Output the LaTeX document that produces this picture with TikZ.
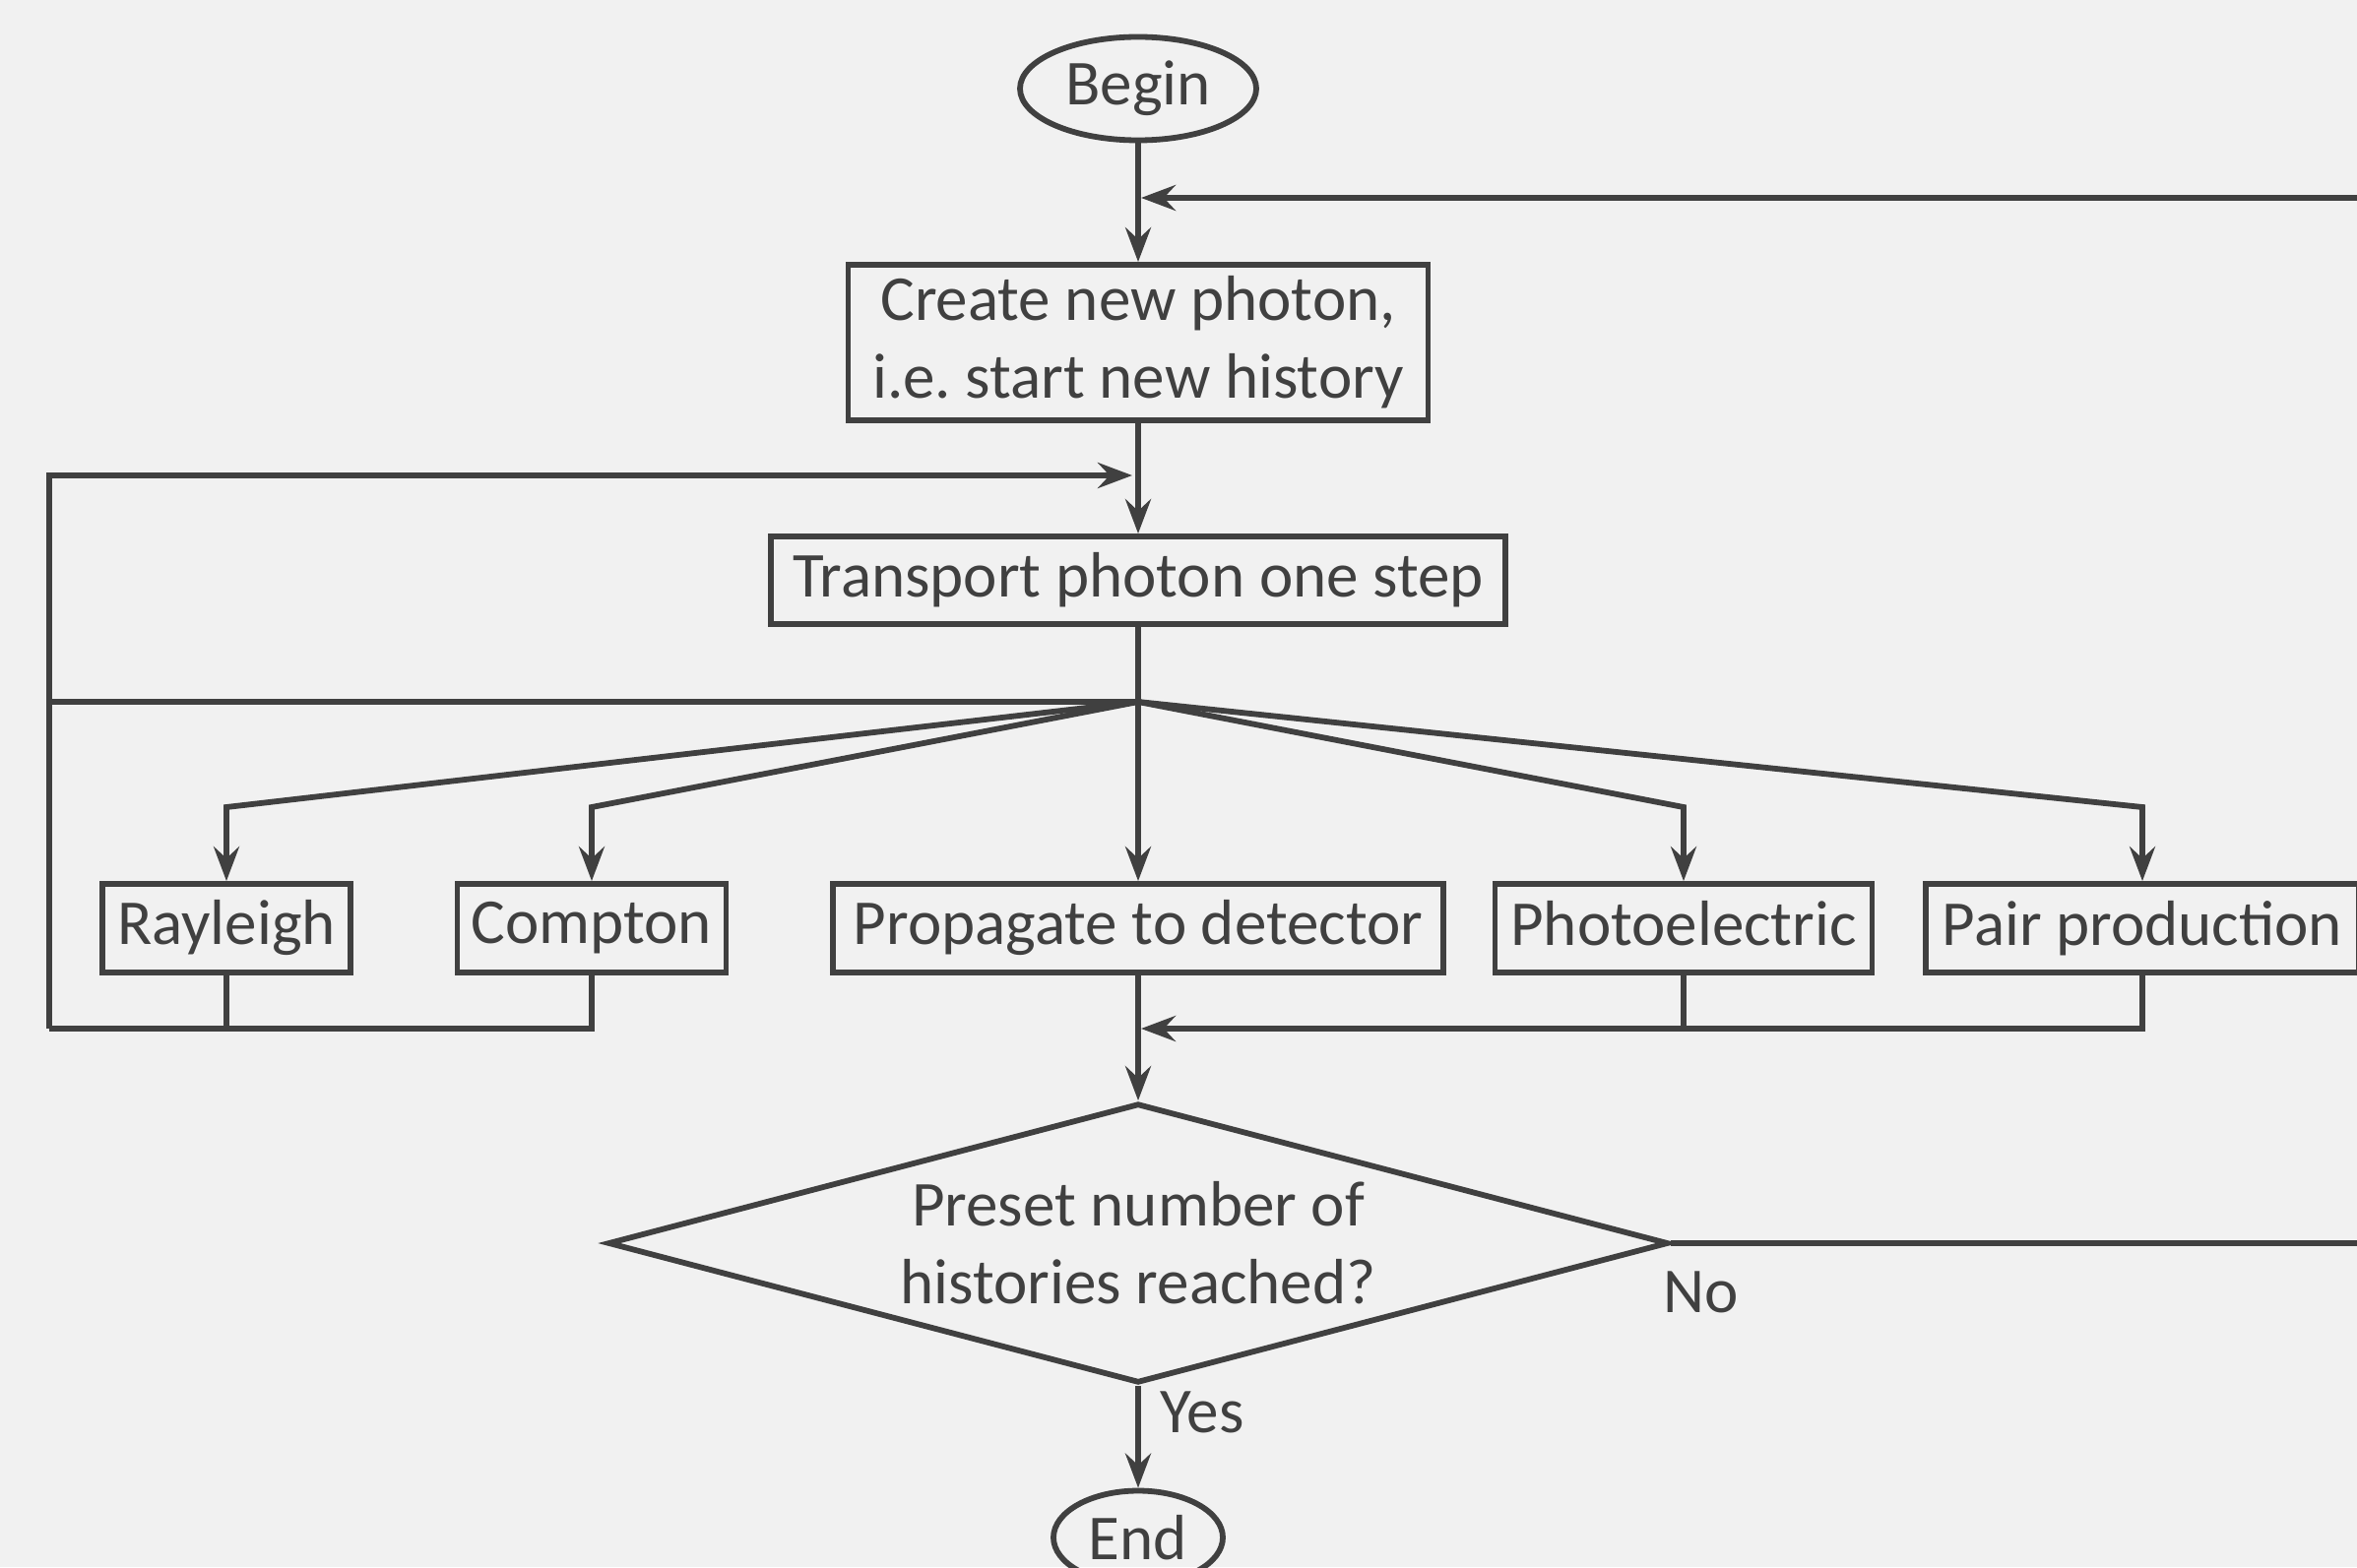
\documentclass[tikz,border=0pt]{standalone}
\usepackage{fontspec}
\setmainfont{Carlito}
\usetikzlibrary{arrows.meta,shapes.geometric}

\definecolor{ink}{HTML}{404040}
\definecolor{paper}{HTML}{F1F1F1}

\begin{document}
\begin{tikzpicture}[
          line width=1.65pt, draw=ink, text=ink,
          font=\fontsize{18.5}{22.5}\selectfont,
          box/.style={draw=ink, rectangle, inner sep=0, minimum height=0.90cm},
          term/.style={draw=ink, ellipse, inner sep=0},
          flow/.style={draw=ink, -{Stealth[length=0.35cm, width=0.26cm, inset=0.12cm]}},
          wire/.style={draw=ink}
        ]
        % ---- canvas ----
        \fill[paper] (0,0) rectangle (23.94,15.92);
        \useasboundingbox (0,0) rectangle (23.94,15.92);

        % ---- main column ----
        \node[term, minimum width=2.40cm, minimum height=1.05cm] (begin) at (11.56,15.02) {Begin};
        \node[box, minimum width=5.89cm, minimum height=1.58cm, align=center] (create) at (11.56,12.44)
          {Create new photon,\\ i.e.\ start new history};
        \node[box, minimum width=7.46cm, minimum height=0.89cm] (transport) at (11.56,10.025)
          {Transport photon one step};

        % ---- interaction row ----
        \node[box, minimum width=2.52cm] (rayleigh) at (2.30,6.49)  {Rayleigh};
        \node[box, minimum width=2.73cm] (compton)  at (6.01,6.49)  {Compton};
        \node[box, minimum width=6.20cm] (detector) at (11.56,6.49) {Propagate to detector};
        \node[box, minimum width=3.83cm] (photo)    at (17.10,6.49) {Photoelectric\vphantom{y}};
        \node[box, minimum width=4.40cm] (pair)     at (21.76,6.49) {Pair production};

        % ---- decision and end ----
        \node[draw=ink, diamond, aspect=3.79, inner sep=0, minimum width=10.77cm, minimum height=2.84cm,
              align=center] (check) at (11.56,3.29)
          {Preset number of\\ histories reached?};
        \node[term, minimum width=1.72cm, minimum height=0.95cm] (end) at (11.56,0.30) {End};

        % ---- helper points ----
        \coordinate (newin)   at (11.59,13.91);
        \coordinate (newfar)  at (24.10,13.91);
        \coordinate (stepin)  at (11.50,11.09);
        \coordinate (split)   at (11.56,8.79);
        \coordinate (leftbus) at (0.50,8.79);
        \coordinate (mergein) at (11.59,5.47);
        \coordinate (nofar)   at (24.10,3.29);

        % ---- connectors ----
        \draw[flow] (begin) -- (create);
        \draw[flow] (newfar) -- (newin);
        \draw[flow] (create) -- (transport);
        \draw[wire] (transport) -- (split);
        \draw[flow] (split) -- (detector);
        \draw[flow] (split) -- (rayleigh.north |- 0,7.72) -- (rayleigh);
        \draw[flow] (split) -- (compton.north |- 0,7.72) -- (compton);
        \draw[flow] (split) -- (photo.north |- 0,7.72) -- (photo);
        \draw[flow] (split) -- (pair.north |- 0,7.72) -- (pair);

        % scattering loops back to transport
        \draw[wire] (split) -- (leftbus);
        \draw[flow] (leftbus |- 0,5.47) -- (0.50,11.09) -- (stepin);
        \draw[wire] (rayleigh) -- (rayleigh.south |- 0,5.47);
        \draw[wire] (compton) -- (compton.south |- 0,5.47) -- (leftbus |- 0,5.47);

        % absorption merges into decision
        \draw[wire] (photo) -- (photo.south |- 0,5.47);
        \draw[flow] (pair) -- (pair.south |- 0,5.47) -- (mergein);
        \draw[flow] (detector) -- (check);

        \draw[wire] (check.east) -- (nofar);
        \draw[flow] (check) -- (end);
        \node[anchor=north west] (nolabel)  at (16.75,3.15) {No};
        \node[anchor=north west] (yeslabel) at (11.64,1.93) {Yes};

      \end{tikzpicture}
\end{document}
